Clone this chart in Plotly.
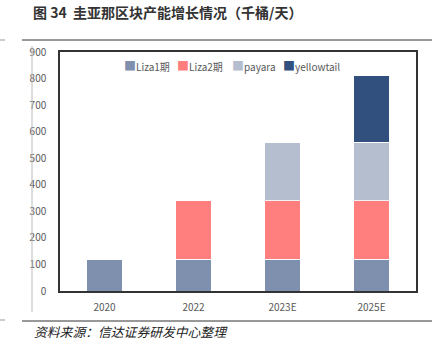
import plotly.graph_objects as go

categories = ["2020", "2022", "2023E", "2025E"]
liza1 = [120, 120, 120, 120]
liza2 = [0, 220, 220, 220]
payara = [0, 0, 220, 220]
yellowtail = [0, 0, 0, 250]
series_names = ["Liza1期", "Liza2期", "payara", "yellowtail"]
series_colors = ["#7F8FAE", "#FF7F7F", "#B4BECE", "#32507E"]
y_ticks = [0, 100, 200, 300, 400, 500, 600, 700, 800, 900]

title_text = "图 34  圭亚那区块产能增长情况（千桶/天）"
source_text = "资料来源：信达证券研发中心整理"

fig = go.Figure()
for name, vals, col in zip(series_names, [liza1, liza2, payara, yellowtail], series_colors):
    fig.add_trace(go.Bar(
        x=categories, y=vals, name=name, showlegend=False,
        marker=dict(color=col, line=dict(color="white", width=0.8)),
    ))

W, H = 443, 350
L, R, T, B = 60, 27, 52, 59

def px_x(x):
    return (x - L) / (W - L - R)

def px_y(y):
    return (H - B - y) / (H - T - B)

fig.update_layout(
    width=W, height=H,
    margin=dict(l=L, r=R, t=T, b=B),
    barmode="stack",
    bargap=0.6,
    plot_bgcolor="white",
    paper_bgcolor="white",
    font=dict(family="Noto Sans CJK SC, Noto Sans, sans-serif", size=10, color="#595959"),
    xaxis=dict(
        showline=True, linecolor="#333333", linewidth=1.5, mirror=True,
        showgrid=False, ticks="", tickfont=dict(size=10, color="#595959"),
        ticklabelstandoff=6,
    ),
    yaxis=dict(
        range=[0, 900], tickvals=y_ticks, showgrid=False, zeroline=False,
        showline=True, linecolor="#333333", linewidth=1.5, mirror=True,
        ticks="", tickfont=dict(size=10, color="#595959"),
        ticklabelstandoff=10,
    ),
)

# legend (drawn as text with coloured squares, from the series lists)
legend_x = [122, 175, 230, 281]
for name, col, lx in zip(series_names, series_colors, legend_x):
    fig.add_annotation(
        text='<span style="color:%s;font-size:12px">■</span>%s' % (col, name),
        xref="paper", yref="paper", x=px_x(lx), y=px_y(65),
        xanchor="left", yanchor="middle", showarrow=False,
        font=dict(size=10, color="#595959", family="Noto Sans CJK SC, sans-serif"),
    )

# decorative lines
fig.add_shape(type="line", xref="paper", yref="paper",
              x0=px_x(22), x1=px_x(432), y0=px_y(40), y1=px_y(40),
              line=dict(color="#333333", width=1))
fig.add_shape(type="line", xref="paper", yref="paper",
              x0=px_x(22), x1=px_x(432), y0=px_y(321), y1=px_y(321),
              line=dict(color="#333333", width=1))
fig.add_shape(type="line", xref="paper", yref="paper",
              x0=px_x(32), x1=px_x(32), y0=px_y(46), y1=px_y(312),
              line=dict(color="#BBBBBB", width=1))
fig.add_shape(type="line", xref="paper", yref="paper",
              x0=px_x(0), x1=px_x(5), y0=px_y(40), y1=px_y(40),
              line=dict(color="#999999", width=1))
fig.add_shape(type="line", xref="paper", yref="paper",
              x0=px_x(0), x1=px_x(5), y0=px_y(320), y1=px_y(320),
              line=dict(color="#999999", width=1))

fig.add_annotation(
    text="<b>" + title_text + "</b>", xref="paper", yref="paper",
    x=px_x(31), y=px_y(12), xanchor="left", yanchor="middle", showarrow=False,
    font=dict(size=14, color="#333333", family="Noto Sans CJK SC, sans-serif"),
)
fig.add_annotation(
    text="<i>" + source_text + "</i>", xref="paper", yref="paper",
    x=px_x(32), y=px_y(331), xanchor="left", yanchor="middle", showarrow=False,
    font=dict(size=12.8, color="#222222", family="Noto Sans CJK SC, sans-serif"),
)

fig.write_html("out.html")
